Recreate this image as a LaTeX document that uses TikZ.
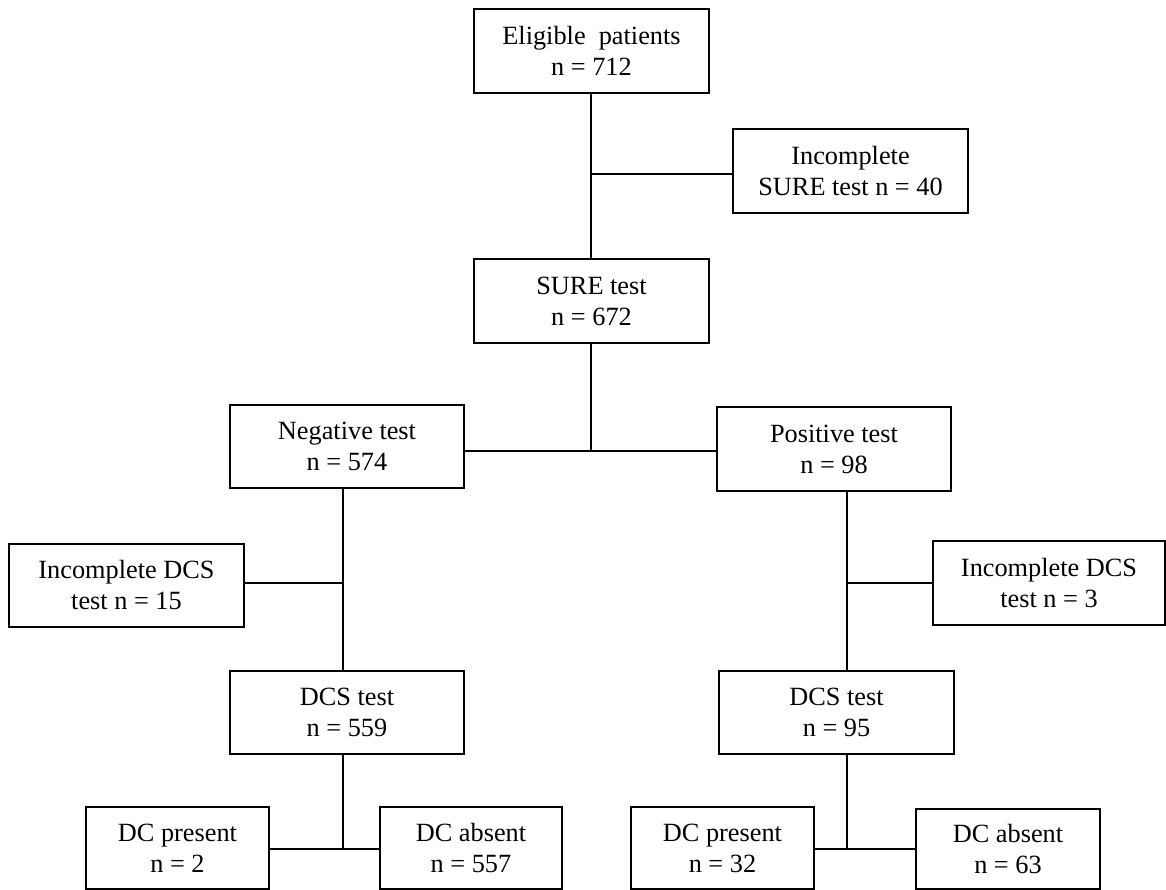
\documentclass[tikz,border=0pt]{standalone}
\usepackage{fontspec}
\setmainfont{Liberation Serif}
\begin{document}
\begin{tikzpicture}[x=1pt,y=1pt,
  box/.style={draw=black, line width=1.7pt, inner sep=0pt, align=center,
    font=\fontsize{26.3}{31}\selectfont, minimum height=84pt},
  wide/.style={box, minimum width=235pt},
  narrow/.style={box, minimum width=183pt},
  conn/.style={draw=black, line width=1.7pt}]
\useasboundingbox (0,0) rectangle (1166,890);
% boxes (y measured upwards: y = 890 - pixel row)
\node[wide] (elig) at (591.5,839) {Eligible\ \ patients\\n = 712};
\node[wide] (incsure) at (850.5,719) {Incomplete\\SURE test n = 40};
\node[wide] (sure) at (591.5,589) {SURE test\\n = 672};
\node[wide, minimum width=234pt, minimum height=83pt] (neg) at (347,443.5) {Negative test\\n = 574};
\node[wide, minimum width=234pt] (pos) at (834,441) {Positive test\\n = 98};
\node[wide, minimum height=83pt] (incL) at (126.5,304.5) {Incomplete DCS\\test n = 15};
\node[wide, minimum width=232pt] (incR) at (1049,307) {Incomplete DCS\\test n = 3};
\node[wide, minimum width=234pt, minimum height=83pt] (dcsL) at (347,177.5) {DCS test\\n = 559};
\node[wide, minimum height=83pt] (dcsR) at (836.5,177.5) {DCS test\\n = 95};
\node[narrow, minimum height=82pt] (dcpL) at (177.5,42) {DC present\\n = 2};
\node[narrow, minimum width=182pt, minimum height=82pt] (dcaL) at (471,42) {DC absent\\n = 557};
\node[narrow, minimum height=82pt] (dcpR) at (722.5,42) {DC present\\n = 32};
\node[narrow, minimum width=184pt, minimum height=80pt] (dcaR) at (1008,41) {DC absent\\n = 63};
% junction coordinates
\coordinate (j1) at (591,716);
\coordinate (j2) at (591,439);
\coordinate (j3) at (343,307);
\coordinate (j4) at (847,307);
\coordinate (j5) at (343,41);
\coordinate (j6) at (847,41);
% connectors
\draw[conn] (elig.south -| j1) -- (sure.north -| j1);
\draw[conn] (j1) -- (j1 -| incsure.west);
\draw[conn] (sure.south -| j2) -- (j2);
\draw[conn] (neg.east |- j2) -- (pos.west |- j2);
\draw[conn] (neg.south -| j3) -- (dcsL.north -| j3);
\draw[conn] (j3) -- (j3 -| incL.east);
\draw[conn] (pos.south -| j4) -- (dcsR.north -| j4);
\draw[conn] (j4) -- (j4 -| incR.west);
\draw[conn] (dcsL.south -| j5) -- (j5);
\draw[conn] (dcpL.east |- j5) -- (dcaL.west |- j5);
\draw[conn] (dcsR.south -| j6) -- (j6);
\draw[conn] (dcpR.east |- j6) -- (dcaR.west |- j6);
\end{tikzpicture}
\end{document}
